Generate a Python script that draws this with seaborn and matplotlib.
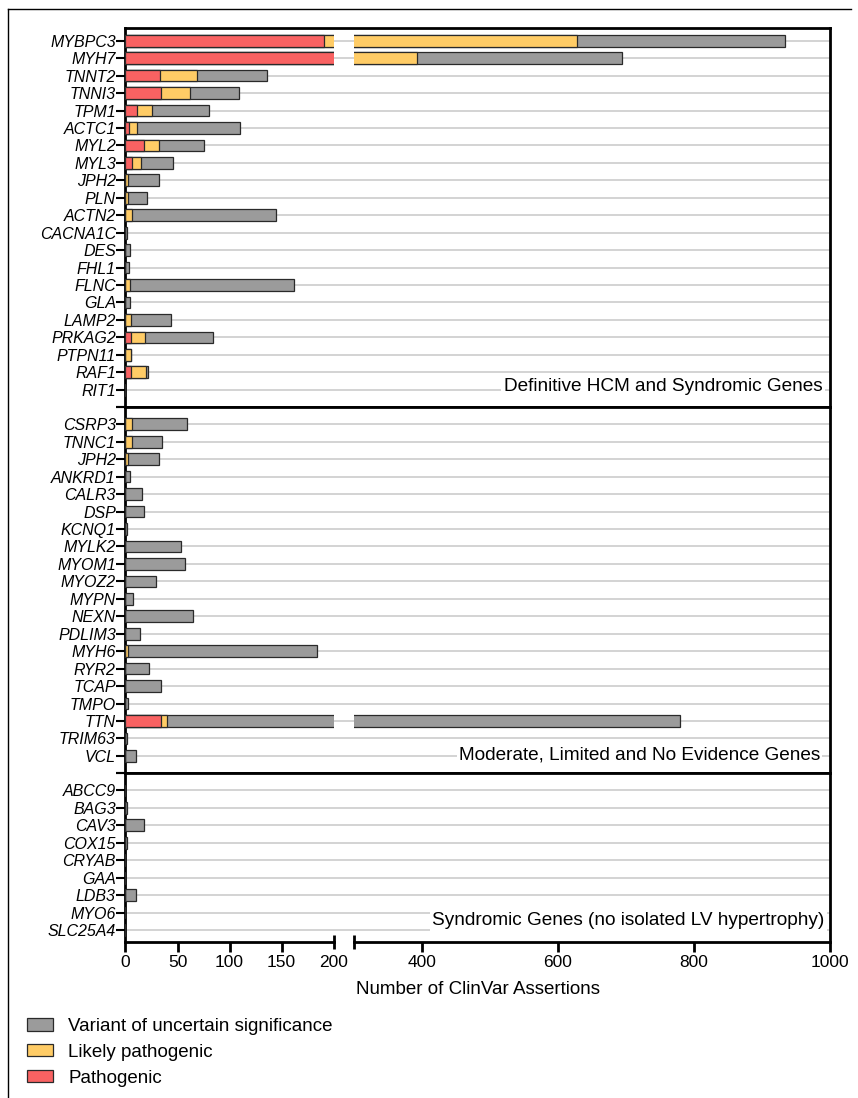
import numpy as np
import matplotlib.pyplot as plt
import seaborn as sns
from matplotlib.patches import Patch
from matplotlib.lines import Line2D

plt.rcParams['font.family'] = ['Liberation Sans', 'DejaVu Sans']

# ---- data: number of ClinVar assertions per gene (P / LP / VUS) ----
genes_def = ['MYBPC3', 'MYH7', 'TNNT2', 'TNNI3', 'TPM1', 'ACTC1', 'MYL2', 'MYL3', 'JPH2', 'PLN',
             'ACTN2', 'CACNA1C', 'DES', 'FHL1', 'FLNC', 'GLA', 'LAMP2', 'PRKAG2', 'PTPN11', 'RAF1', 'RIT1']
path_def = [191, 255, 33, 34, 11, 3, 18, 6, 0, 0, 0, 0, 0, 0, 0, 0, 0, 5, 0, 5, 0]
lp_def = [437, 138, 36, 28, 14, 8, 14, 9, 2, 2, 6, 0, 0, 0, 4, 0, 5, 14, 5, 15, 0]
vus_def = [306, 301, 67, 47, 55, 99, 43, 31, 30, 19, 139, 1, 4, 3, 158, 4, 39, 65, 0, 2, 0]

genes_mod = ['CSRP3', 'TNNC1', 'JPH2', 'ANKRD1', 'CALR3', 'DSP', 'KCNQ1', 'MYLK2', 'MYOM1', 'MYOZ2',
             'MYPN', 'NEXN', 'PDLIM3', 'MYH6', 'RYR2', 'TCAP', 'TMPO', 'TTN', 'TRIM63', 'VCL']
path_mod = [0, 0, 0, 0, 0, 0, 0, 0, 0, 0, 0, 0, 0, 0, 0, 0, 0, 34, 0, 0]
lp_mod = [6, 6, 2, 0, 0, 0, 0, 0, 0, 0, 0, 0, 0, 2, 0, 0, 0, 6, 0, 0]
vus_mod = [53, 29, 30, 4, 16, 18, 1, 53, 57, 29, 7, 65, 14, 182, 23, 34, 2, 739, 1, 10]

genes_syn = ['ABCC9', 'BAG3', 'CAV3', 'COX15', 'CRYAB', 'GAA', 'LDB3', 'MYO6', 'SLC25A4']
path_syn = [0, 0, 0, 0, 0, 0, 0, 0, 0]
lp_syn = [0, 0, 0, 0, 0, 0, 0, 0, 0]
vus_syn = [0, 1, 18, 1, 0, 0, 10, 0, 0]

panel_titles = ['Definitive HCM and Syndromic Genes',
                'Moderate, Limited and No Evidence Genes',
                'Syndromic Genes (no isolated LV hypertrophy)']

col_vus = '#9b9b9b'
col_lp = '#ffcc66'
col_p = '#f96262'
col_edge = '#2a2a2a'
col_grid = '#cccccc'

W, H = 858, 1098
fig = plt.figure(figsize=(W / 100, H / 100), dpi=100)

xL0, xL1, xR0, xR1 = 125.5, 333.5, 354, 830


def frac_box(x0, x1, ytop, ybot):
    return [x0 / W, 1 - ybot / H, (x1 - x0) / W, (ybot - ytop) / H]


def draw_panel(ytop, ybot, genes, p, lp, vus, title, ylim, title_y, title_x, last):
    p = np.array(p)
    plp = p + np.array(lp)
    tot = plp + np.array(vus)

    axB = fig.add_axes(frac_box(xL0, xR1, ytop, ybot))
    axL = fig.add_axes(frac_box(xL0, xL1, ytop, ybot), sharey=axB)
    axR = fig.add_axes(frac_box(xR0, xR1, ytop, ybot), sharey=axB)
    axB.set_zorder(0)
    axL.set_zorder(1)
    axR.set_zorder(1)

    for ax in (axL, axR):
        for vals, col in [(tot, col_vus), (plp, col_lp), (p, col_p)]:
            sns.barplot(x=vals, y=genes, order=genes, orient='h', color=col, width=0.67,
                        edgecolor=col_edge, linewidth=0.9, saturation=1, errorbar=None, ax=ax)
        ax.set_facecolor('none')
        ax.set_xlabel('')
        ax.set_ylabel('')
        for s in ax.spines.values():
            s.set_visible(False)
        ax.tick_params(axis='y', which='both', left=False, labelleft=False)

    axL.set_xlim(0, 200)
    axR.set_xlim(300, 1000)

    # background axes: frame, gene ticks and grid lines
    axB.set_xlim(0, 1)
    axB.set_xticks([])
    axB.set_yticks(range(len(genes)), genes, fontstyle='italic', fontsize=11.5)
    axB.set_ylim(*ylim)
    axB.grid(axis='y', color=col_grid, lw=1.2)
    axB.set_axisbelow(True)
    for name, s in axB.spines.items():
        s.set_linewidth(2)
        s.set_color('black')
    if last:
        axB.spines['bottom'].set_visible(False)
    ends = [e for e in ylim if not (e == ylim[1] and ytop < 30) and not (e == ylim[0] and last)]
    axB.set_yticks(ends, minor=True)
    axB.tick_params(axis='y', which='both', length=6.5, width=1.5, pad=0.5, color='black')

    axB.text(title_x, title_y, title, transform=axB.transAxes, ha='right', va='center',
             fontsize=13.7, zorder=2,
             bbox=dict(boxstyle='square,pad=0.12', facecolor='white', edgecolor='none'))

    if last:
        for ax in (axL, axR):
            ax.spines['bottom'].set_visible(True)
            ax.spines['bottom'].set_linewidth(2)
            ax.spines['bottom'].set_color('black')
        axL.set_xticks([0, 50, 100, 150])
        axL.set_xticks([200], ['200'], minor=True)
        axR.set_xticks([400, 600, 800, 1000])
        axR.set_xticks([300], [''], minor=True)
        for ax in (axL, axR):
            ax.tick_params(axis='x', which='major', direction='out', length=7.2, width=2,
                           pad=2.5, labelsize=12.5)
            ax.tick_params(axis='x', which='minor', direction='inout', length=9.5, width=2,
                           pad=4.85, labelsize=12.5)
    else:
        for ax in (axL, axR):
            ax.set_xticks([])
    return axB


draw_panel(28, 407, genes_def, path_def, lp_def, vus_def, panel_titles[0],
           (20.99, -0.73), 0.053, 0.989, False)
draw_panel(407, 773, genes_mod, path_mod, lp_mod, vus_mod, panel_titles[1],
           (19.98, -0.99), 0.049, 0.986, False)
draw_panel(773, 941.5, genes_syn, path_syn, lp_syn, vus_syn, panel_titles[2],
           (8.66, -1.0), 0.122, 0.992, True)

fig.text((xL0 + xR1) / 2 / W, 1 - 989 / H, 'Number of ClinVar Assertions',
         ha='center', va='center', fontsize=13.5)

handles = [Patch(facecolor=col_vus, edgecolor=col_edge, lw=0.9),
           Patch(facecolor=col_lp, edgecolor=col_edge, lw=0.9),
           Patch(facecolor=col_p, edgecolor=col_edge, lw=0.9)]
fig.legend(handles, ['Variant of uncertain significance', 'Likely pathogenic', 'Pathogenic'],
           loc='upper left', bbox_to_anchor=(27 / W, 1 - 1018 / H), frameon=False,
           fontsize=13.5, handlelength=1.4, handleheight=0.65, handletextpad=0.8,
           labelspacing=0.47, borderpad=0, borderaxespad=0)

# outer frame of the figure panel
fig.add_artist(Line2D([8 / W, 8 / W], [0, 1 - 9 / H], color='black', lw=1))
fig.add_artist(Line2D([8 / W, 851 / W], [1 - 9 / H, 1 - 9 / H], color='black', lw=1))

fig.savefig('out.png', dpi=100)
